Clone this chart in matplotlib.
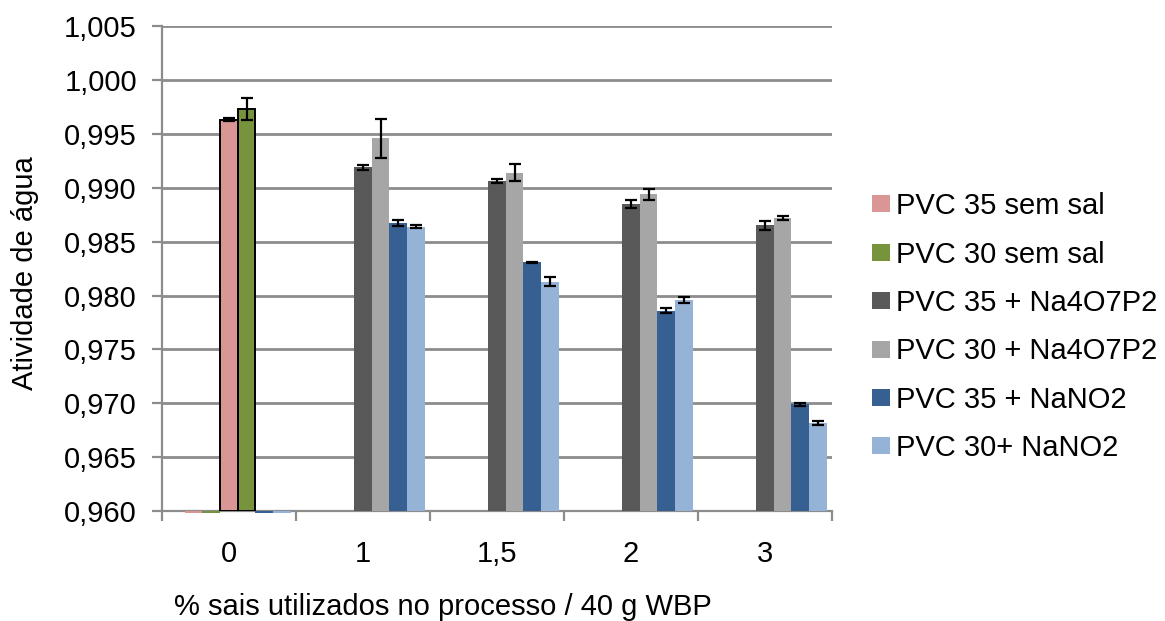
import numpy as np
import matplotlib
matplotlib.use("Agg")
import matplotlib.pyplot as plt
from matplotlib.patches import Patch

plt.rcParams['font.family'] = ['Liberation Sans', 'DejaVu Sans']

# --------------------------
# Data
# --------------------------
categories = ['0', '1', '1,5', '2', '3']

# only present at 0 %
pvc35_sem_sal = 0.9963
pvc35_sem_sal_err = 0.00015
pvc30_sem_sal = 0.9973
pvc30_sem_sal_err = 0.0010

nan = np.nan
pvc35_na4 = [nan, 0.9919, 0.9906, 0.9885, 0.9865]
pvc35_na4_err = [nan, 0.00023, 0.0002, 0.00037, 0.0004]
pvc30_na4 = [nan, 0.9946, 0.9914, 0.9894, 0.9872]
pvc30_na4_err = [nan, 0.0018, 0.0008, 0.0005, 0.0002]
pvc35_nano2 = [0.960, 0.9867, 0.9831, 0.9786, 0.9699]
pvc35_nano2_err = [0.0, 0.00028, 0.00005, 0.00026, 0.00013]
pvc30_nano2 = [0.960, 0.9864, 0.9813, 0.9796, 0.9682]
pvc30_nano2_err = [0.0, 0.0001, 0.0004, 0.0003, 0.0002]

labels = ['PVC 35 sem sal', 'PVC 30 sem sal', 'PVC 35 + Na4O7P2',
          'PVC 30 + Na4O7P2', 'PVC 35 + NaNO2', 'PVC 30+ NaNO2']
colors = ['#D99694', '#77933C', '#595959', '#A6A6A6', '#376092', '#95B3D7']

y_min, y_max = 0.960, 1.005

# --------------------------
# Plot
# --------------------------
fig = plt.figure(figsize=(11.65, 6.21), dpi=100)
ax = fig.add_axes([0.139, 0.177, 0.575, 0.781])

x = np.arange(len(categories))
w = 0.132
slot = lambda i: (i - 2.5) * w + w / 2

err_kw = dict(ecolor='black', elinewidth=1.6, capsize=4.5, capthick=1.6)

# the salt series occupy slots 2..5 in every group
series = [(pvc35_na4, pvc35_na4_err, 2), (pvc30_na4, pvc30_na4_err, 3),
          (pvc35_nano2, pvc35_nano2_err, 4), (pvc30_nano2, pvc30_nano2_err, 5)]
for vals, errs, s in series:
    vals = np.array(vals)
    errs = np.array(errs)
    real = vals > y_min
    ax.bar(x[real] + slot(s), vals[real] - y_min, w, bottom=y_min,
           color=colors[s], yerr=errs[real], error_kw=err_kw, zorder=3)
    # zero values show up as a thin strip under the axis
    ax.bar(x[~real] + slot(s), -0.00022, w, bottom=vals[~real],
           color=colors[s], clip_on=False, zorder=3)

# group 0: salt-free samples with black outlines, flat entries on the left
ax.bar(x[0] + slot(2), pvc35_sem_sal - y_min, w, bottom=y_min, color=colors[0],
       edgecolor='black', linewidth=1.4, yerr=pvc35_sem_sal_err, error_kw=err_kw, zorder=3)
ax.bar(x[0] + slot(3), pvc30_sem_sal - y_min, w, bottom=y_min, color=colors[1],
       edgecolor='black', linewidth=1.4, yerr=pvc30_sem_sal_err, error_kw=err_kw, zorder=3)
for s in (0, 1):
    ax.bar(x[0] + slot(s), -0.00022, w, bottom=y_min, color=colors[s],
           clip_on=False, zorder=3)

ax.set_ylim(y_min, y_max)
ax.set_xlim(-0.5, len(categories) - 0.5)
yt = np.arange(0.960, 1.0051, 0.005)
ax.set_yticks(yt)
ax.set_yticklabels([f'{v:.3f}'.replace('.', ',') for v in yt])
ax.set_xticks(x)
ax.set_xticklabels(categories)
ax.set_xticks(np.arange(-0.5, len(categories)), minor=True)

ax.grid(axis='y', color='#8c8c8c', linewidth=2.0, zorder=0)
ax.set_axisbelow(True)
for side in ('top', 'right'):
    ax.spines[side].set_visible(False)
for side in ('left', 'bottom'):
    ax.spines[side].set_color('#8c8c8c')
    ax.spines[side].set_linewidth(1.6)

ax.tick_params(axis='y', length=7, width=1.6, color='#8c8c8c', labelsize=21, pad=11)
ax.tick_params(axis='x', which='major', length=0, labelsize=21, pad=21)
ax.tick_params(axis='x', which='minor', length=7, width=1.6, color='#8c8c8c')

ax.set_ylabel('Atividade de água', fontsize=21, va='center')
ax.yaxis.set_label_coords(-0.204, 0.49)
ax.set_xlabel('% sais utilizados no processo / 40 g WBP', fontsize=21, va='center')
ax.xaxis.set_label_coords(0.42, -0.198)

handles = [Patch(facecolor=c, edgecolor='none') for c in colors]
fig.legend(handles, labels, loc='center left', bbox_to_anchor=(0.726, 0.473),
           frameon=False, fontsize=21, handlelength=0.62, handleheight=0.52,
           handletextpad=0.2, labelspacing=0.7)

fig.savefig('out.png', dpi=100)
